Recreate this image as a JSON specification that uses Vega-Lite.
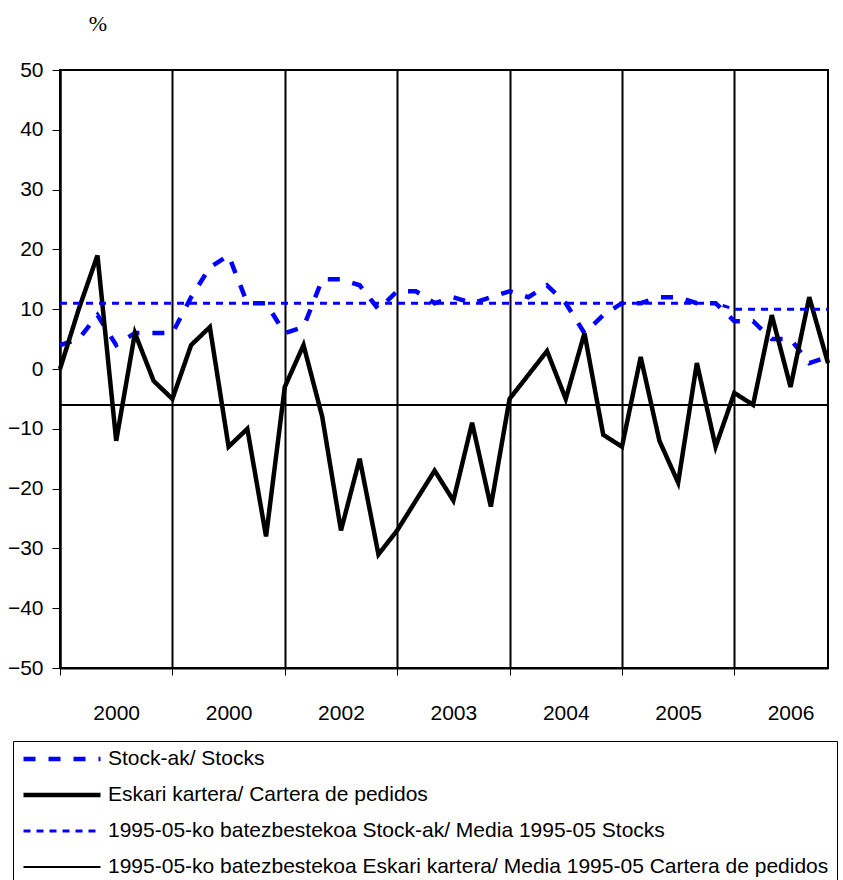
{
  "$schema": "https://vega.github.io/schema/vega-lite/v6.json",
  "width": 768,
  "height": 598,
  "autosize": {"type": "none"},
  "padding": {"left": 60, "top": 70, "right": 15, "bottom": 212},
  "background": "white",
  "data": {"values": [
    {"i": 0, "stocks": 4, "orders": 0, "mean_stocks": 11, "mean_orders": -6},
    {"i": 1, "stocks": 5, "orders": 10, "mean_stocks": 11, "mean_orders": -6},
    {"i": 2, "stocks": 9, "orders": 19, "mean_stocks": 11, "mean_orders": -6},
    {"i": 3, "stocks": 4, "orders": -12, "mean_stocks": 11, "mean_orders": -6},
    {"i": 4, "stocks": 6, "orders": 6, "mean_stocks": 11, "mean_orders": -6},
    {"i": 5, "stocks": 6, "orders": -2, "mean_stocks": 11, "mean_orders": -6},
    {"i": 6, "stocks": 6, "orders": -5, "mean_stocks": 11, "mean_orders": -6},
    {"i": 7, "stocks": 12, "orders": 4, "mean_stocks": 11, "mean_orders": -6},
    {"i": 8, "stocks": 17, "orders": 7, "mean_stocks": 11, "mean_orders": -6},
    {"i": 9, "stocks": 19, "orders": -13, "mean_stocks": 11, "mean_orders": -6},
    {"i": 10, "stocks": 11, "orders": -10, "mean_stocks": 11, "mean_orders": -6},
    {"i": 11, "stocks": 11, "orders": -28, "mean_stocks": 11, "mean_orders": -6},
    {"i": 12, "stocks": 6, "orders": -3, "mean_stocks": 11, "mean_orders": -6},
    {"i": 13, "stocks": 7, "orders": 4, "mean_stocks": 11, "mean_orders": -6},
    {"i": 14, "stocks": 15, "orders": -8, "mean_stocks": 11, "mean_orders": -6},
    {"i": 15, "stocks": 15, "orders": -27, "mean_stocks": 11, "mean_orders": -6},
    {"i": 16, "stocks": 14, "orders": -15, "mean_stocks": 11, "mean_orders": -6},
    {"i": 17, "stocks": 10, "orders": -31, "mean_stocks": 11, "mean_orders": -6},
    {"i": 18, "stocks": 13, "orders": -27, "mean_stocks": 11, "mean_orders": -6},
    {"i": 19, "stocks": 13, "orders": -22, "mean_stocks": 11, "mean_orders": -6},
    {"i": 20, "stocks": 11, "orders": -17, "mean_stocks": 11, "mean_orders": -6},
    {"i": 21, "stocks": 12, "orders": -22, "mean_stocks": 11, "mean_orders": -6},
    {"i": 22, "stocks": 11, "orders": -9, "mean_stocks": 11, "mean_orders": -6},
    {"i": 23, "stocks": 12, "orders": -23, "mean_stocks": 11, "mean_orders": -6},
    {"i": 24, "stocks": 13, "orders": -5, "mean_stocks": 11, "mean_orders": -6},
    {"i": 25, "stocks": 12, "orders": -1, "mean_stocks": 11, "mean_orders": -6},
    {"i": 26, "stocks": 14, "orders": 3, "mean_stocks": 11, "mean_orders": -6},
    {"i": 27, "stocks": 11, "orders": -5, "mean_stocks": 11, "mean_orders": -6},
    {"i": 28, "stocks": 6, "orders": 6, "mean_stocks": 11, "mean_orders": -6},
    {"i": 29, "stocks": 9, "orders": -11, "mean_stocks": 11, "mean_orders": -6},
    {"i": 30, "stocks": 11, "orders": -13, "mean_stocks": 11, "mean_orders": -6},
    {"i": 31, "stocks": 11, "orders": 2, "mean_stocks": 11, "mean_orders": -6},
    {"i": 32, "stocks": 12, "orders": -12, "mean_stocks": 11, "mean_orders": -6},
    {"i": 33, "stocks": 12, "orders": -19, "mean_stocks": 11, "mean_orders": -6},
    {"i": 34, "stocks": 11, "orders": 1, "mean_stocks": 11, "mean_orders": -6},
    {"i": 35, "stocks": 11, "orders": -13, "mean_stocks": 11, "mean_orders": -6},
    {"i": 36, "stocks": 8, "orders": -4, "mean_stocks": 10, "mean_orders": -6},
    {"i": 37, "stocks": 8, "orders": -6, "mean_stocks": 10, "mean_orders": -6},
    {"i": 38, "stocks": 5, "orders": 9, "mean_stocks": 10, "mean_orders": -6},
    {"i": 39, "stocks": 5, "orders": -3, "mean_stocks": 10, "mean_orders": -6},
    {"i": 40, "stocks": 1, "orders": 12, "mean_stocks": 10, "mean_orders": -6},
    {"i": 41, "stocks": 2, "orders": 1, "mean_stocks": 10, "mean_orders": -6}
  ]},
  "transform": [
    {"fold": ["stocks", "orders", "mean_stocks", "mean_orders"], "as": ["series", "value"]}
  ],
  "mark": {"type": "line", "strokeCap": "butt", "strokeJoin": "miter"},
  "encoding": {
    "x": {
      "field": "i",
      "type": "quantitative",
      "scale": {"domain": [0, 41], "nice": false, "zero": false},
      "axis": {
        "values": [0, 3, 6, 9, 12, 15, 18, 21, 24, 27, 30, 33, 36, 39],
        "title": null,
        "grid": true,
        "gridColor": "black",
        "gridWidth": 2,
        "gridOpacity": {"condition": {"test": "datum.value % 6 === 0", "value": 1}, "value": 0},
        "ticks": true,
        "tickColor": "black",
        "tickSize": 7,
        "tickWidth": 1,
        "tickOpacity": {"condition": {"test": "datum.value % 6 === 0", "value": 1}, "value": 0},
        "labelExpr": "datum.value === 3 ? '2000' : datum.value === 9 ? '2000' : datum.value === 15 ? '2002' : datum.value === 21 ? '2003' : datum.value === 27 ? '2004' : datum.value === 33 ? '2005' : datum.value === 39 ? '2006' : ''",
        "labelFontSize": 21,
        "labelPadding": 27,
        "labelBaseline": "top",
        "labelOverlap": false,
        "labelFlush": false,
        "labelColor": "black",
        "domainColor": "black",
        "domainWidth": 2
      }
    },
    "y": {
      "field": "value",
      "type": "quantitative",
      "scale": {"domain": [-50, 50], "nice": false, "zero": false},
      "axis": {
        "values": [-50, -40, -30, -20, -10, 0, 10, 20, 30, 40, 50],
        "grid": false,
        "title": "%",
        "titleAngle": 0,
        "titleX": 37.5,
        "titleY": -46.5,
        "titleAlign": "center",
        "titleBaseline": "middle",
        "titleFont": "Liberation Serif",
        "titleFontSize": 22,
        "titleFontWeight": "normal",
        "titleColor": "black",
        "labelFontSize": 21,
        "labelColor": "black",
        "labelPadding": 9,
        "tickSize": 8,
        "tickColor": "black",
        "domainColor": "black",
        "domainWidth": 2
      }
    },
    "color": {
      "field": "series",
      "type": "nominal",
      "scale": {
        "domain": ["stocks", "orders", "mean_stocks", "mean_orders"],
        "range": ["#0000ff", "#000000", "#0000ff", "#000000"]
      },
      "legend": {
        "title": null,
        "orient": "none",
        "legendX": -47,
        "legendY": 671,
        "direction": "vertical",
        "symbolType": "stroke",
        "symbolSize": 5929,
        "clipHeight": 20,
        "labelFontSize": 21,
        "labelColor": "black",
        "labelLimit": 1000,
        "labelOffset": 5,
        "rowPadding": 15,
        "padding": 8,
        "strokeColor": "black",
        "fillColor": "white",
        "labelExpr": "datum.value === 'stocks' ? 'Stock-ak/ Stocks' : datum.value === 'orders' ? 'Eskari kartera/ Cartera de pedidos' : datum.value === 'mean_stocks' ? '1995-05-ko batezbestekoa Stock-ak/ Media 1995-05 Stocks' : '1995-05-ko batezbestekoa Eskari kartera/ Media 1995-05 Cartera de pedidos'"
      }
    },
    "strokeDash": {
      "field": "series",
      "type": "nominal",
      "scale": {
        "domain": ["stocks", "orders", "mean_stocks", "mean_orders"],
        "range": [[12, 13], [1, 0], [7, 6], [1, 0]]
      }
    },
    "strokeWidth": {
      "field": "series",
      "type": "nominal",
      "scale": {
        "type": "ordinal",
        "domain": ["stocks", "orders", "mean_stocks", "mean_orders"],
        "range": [4.5, 4.5, 3, 2]
      }
    }
  },
  "config": {
    "font": "Liberation Sans",
    "view": {"stroke": "black", "strokeWidth": 2}
  }
}
